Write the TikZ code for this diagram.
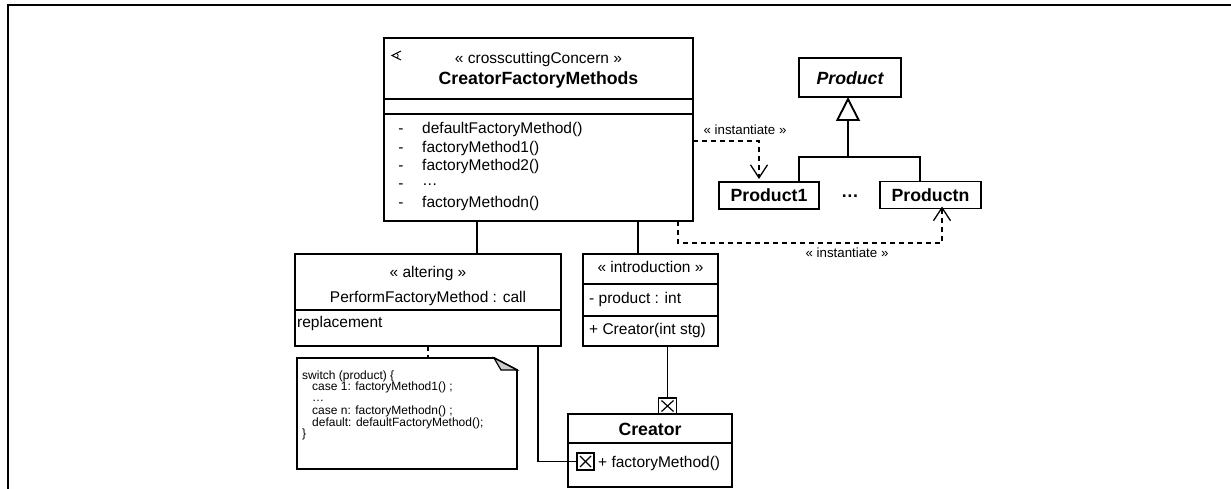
\documentclass[tikz,border=0pt]{standalone}
\usepackage{fontspec}
\setmainfont{Liberation Sans}
\usetikzlibrary{arrows.meta,calc}
\begin{document}
\begin{tikzpicture}[x=1pt,y=-1pt,
  box/.style={draw, line width=1.9pt, inner sep=0pt, outer sep=0pt},
  txt/.style={inner sep=0pt, font=\fontsize{15.5}{18}\selectfont, text height=11.1pt, text depth=0pt},
  btxt/.style={inner sep=0pt, font=\fontsize{17.7}{20}\selectfont\bfseries, text height=12.7pt, text depth=0pt},
  stxt/.style={inner sep=0pt, font=\fontsize{13.3}{15}\selectfont, text height=9.5pt, text depth=0pt},
  ntxt/.style={inner sep=0pt, font=\fontsize{12}{13}\selectfont, text height=8.6pt, text depth=0pt, anchor=west},
  conn/.style={line width=1.9pt},
  dep/.style={line width=1.3pt, dash pattern=on 5pt off 4pt},
  inst/.style={dep, -{Straight Barb[length=13pt,width=17pt,line width=1.3pt]}},
]
\useasboundingbox (0,0) rectangle (1231,489);
% frame
\draw[line width=2pt] (1231,5) -- (7.7,5) -- (7.7,489);

% helper coordinates
\coordinate (kA) at (477,0);
\coordinate (kB) at (638,0);
\coordinate (kD) at (538,0);
\coordinate (kN) at (428,0);
\coordinate (kE) at (678,0);
\coordinate (kF) at (942,0);
\coordinate (kG) at (759,0);
\coordinate (kP) at (848,0);
\coordinate (kQ) at (799,0);
\coordinate (kR) at (920,0);
\coordinate (kI) at (0,141);
\coordinate (jn) at (848,157);
\coordinate (jy) at (942,243);

% CreatorFactoryMethods
\node[box, minimum width=309pt, minimum height=183pt] (cfm) at (538.5,129.5) {};
\draw[conn] (384,99) -- (693,99);
\draw[conn] (384,114) -- (693,114);
\draw[line width=1pt] (401,51) -- (392,55.5) -- (401,60);
\draw[line width=0.8pt] (396.5,53.2) .. controls (398.5,55) .. (397.5,58.2);
\node[txt] (cfmst) at (538.5,58) {« crosscuttingConcern »};
\node[btxt] (cfmname) at (538.5,78) {CreatorFactoryMethods};
\node[txt] (d1) at (401,128) {-};
\node[txt] (d2) at (401,147) {-};
\node[txt] (d3) at (401,165) {-};
\node[txt] (d4) at (401,183) {-};
\node[txt] (d5) at (401,202) {-};
\node[txt,anchor=west] (m1) at (422,128) {defaultFactoryMethod()};
\node[txt,anchor=west] (m2) at (422,147) {factoryMethod1()};
\node[txt,anchor=west] (m3) at (422,165) {factoryMethod2()};
\node[txt,anchor=west] (m4) at (422,180) {…};
\node[txt,anchor=west] (m5) at (422,202) {factoryMethodn()};

% altering
\node[box, minimum width=266pt, minimum height=92pt] (alt) at (428,300) {};
\draw[conn] (295,310) -- (561,310);
\node[txt] (altst) at (428,272) {« altering »};
\node[txt] (altname) at (428,297) {PerformFactoryMethod : call};
\node[txt,anchor=west] (altrep) at (297,322) {replacement};

% introduction
\node[box, minimum width=135pt, minimum height=92pt] (intro) at (650.5,300) {};
\draw[conn] (583,284) -- (718,284);
\draw[conn] (583,316) -- (718,316);
\node[txt] (introst) at (650.5,267) {« introduction »};
\node[txt,anchor=west] (introa) at (589,298) {- product : int};
\node[txt,anchor=west] (introo) at (589,329) {+ Creator(int stg)};

% note
\node[inner sep=0pt, outer sep=0pt, minimum width=220pt, minimum height=111pt] (note) at (407,413.5) {};
\draw[line width=1.9pt] (297,358) -- (494,358) -- (517,370) -- (517,469) -- (297,469) -- cycle;
\filldraw[fill=gray!40, line width=1.2pt] (494,358) -- (517,370) -- (501,370) -- cycle;
\node[ntxt] (n1) at (302,375.5) {switch (product) \{};
\node[ntxt] (n2) at (312,386.5) {case 1: factoryMethod1() ;};
\node[ntxt, text height=2pt] (n3) at (312,400) {…};
\node[ntxt] (n4) at (312,410.5) {case n: factoryMethodn() ;};
\node[ntxt] (n5) at (312,422) {default: defaultFactoryMethod();};
\node[ntxt] (n6) at (302,433.5) {\}};

% Creator
\node[box, minimum width=164pt, minimum height=73pt] (cr) at (650,450.5) {};
\draw[conn] (568,443) -- (732,443);
\node[btxt] (crname) at (650,429) {Creator};
\node[box, minimum width=17pt, minimum height=17pt] (xb1) at (585.5,461.5) {};
\draw[line width=1.2pt] ($(xb1.north west)+(3,3)$) -- ($(xb1.south east)+(-3,-3)$);
\draw[line width=1.2pt] ($(xb1.north east)+(-3,3)$) -- ($(xb1.south west)+(3,-3)$);
\node[txt,anchor=west] (crm) at (598,462) {+ factoryMethod()};
\node[box, minimum width=18pt, minimum height=16pt] (xb2) at (667.5,406) {};
\draw[line width=1.2pt] ($(xb2.north west)+(3,2.5)$) -- ($(xb2.south east)+(-3,-2.5)$);
\draw[line width=1.2pt] ($(xb2.north east)+(-3,2.5)$) -- ($(xb2.south west)+(3,-2.5)$);

% Products
\node[box, minimum width=102pt, minimum height=39pt] (prod) at (850,77.5) {};
\node[inner sep=0pt, font=\fontsize{17.7}{20}\selectfont\bfseries\itshape, text height=12.7pt, text depth=0pt] (prodt) at (850,78) {Product};
\node[box, btxt, minimum width=100pt, minimum height=27pt] (p1) at (769,195.5) {Product1};
\node[box, btxt, minimum width=101pt, minimum height=27pt] (pn) at (930.5,195) {Productn};
\node[btxt] (dots) at (850,191) {…};

% connectors
\draw[conn] (cfm.south -| kA) -- (alt.north -| kA);
\draw[conn] (cfm.south -| kB) -- (intro.north -| kB);
\draw[conn] (intro.south -| xb2) -- (xb2.north);
\draw[conn] (alt.south -| kD) |- (xb1.west);
\draw[dep] (alt.south -| kN) -- (note.north -| kN);
\draw[conn, -{Triangle[open, length=24pt, width=24pt, line width=1.9pt]}] (jn) -- (prod.south -| kP);
\draw[conn] (p1.north -| kQ) |- (jn) -| (pn.north -| kR);
\draw[inst, shorten >=3pt] (cfm.east |- kI) -| (p1.north -| kG);
\draw[inst, shorten >=-2pt] (cfm.south -| kE) |- (jy) -- (pn.south -| kF);
\node[stxt] (l1) at (745,130) {« instantiate »};
\node[stxt] (l2) at (847,253) {« instantiate »};
\end{tikzpicture}
\end{document}
